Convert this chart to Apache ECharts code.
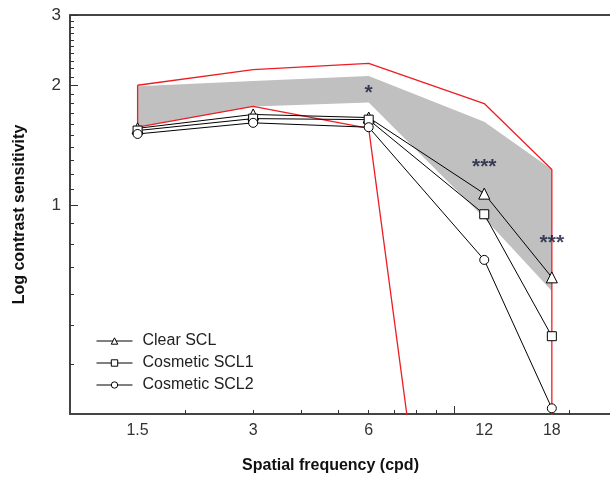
<!DOCTYPE html>
<html>
<head>
<meta charset="utf-8">
<script src="https://cdn.jsdelivr.net/npm/echarts@6/dist/echarts.min.js"></script>
<style>
html, body { margin: 0; padding: 0; background: #fff; overflow: hidden; }
#chart { width: 640px; height: 481px; }
</style>
</head>
<body>
<div id="chart"></div>
<script>
// spatial frequencies (cpd)
var freqs = [1.5, 3, 6, 12, 18];
// contrast sensitivity per lens
var clearScl = [1.56, 1.69, 1.66, 1.07, 0.66];
var cosmeticScl1 = [1.54, 1.65, 1.64, 0.95, 0.47];
var cosmeticScl2 = [1.51, 1.61, 1.57, 0.73, 0.31];
// grey normal band
var bandUpper = [1.99, 2.05, 2.11, 1.62, 1.23];
var bandLower = [1.57, 1.77, 1.81, 0.93, 0.61];
// red limits
var limitUpper = [2.0, 2.19, 2.27, 1.80, 1.23];
var limitLower = [1.57, 1.77, 1.56, 0.0105, 0.001];
// significance marks
var starFreqs = [6, 12, 18];
var starValues = [1.91, 1.245, 0.805];
var starText = ['*', '***', '***'];
// ticks
var xLabelValues = [1.5, 3, 6, 12, 18];
var xMinorTicks = [2, 3, 4, 5, 6, 7, 8, 9, 20];
var xMajorTicks = [10];
var yLabelValues = [1, 2, 3];
var yMinorTicks = [0.4, 0.5, 0.6, 0.7, 0.8, 0.9, 1.1, 1.2, 1.3, 1.4, 1.5, 1.6, 1.7, 1.8, 1.9,
	2.1, 2.2, 2.3, 2.4, 2.5, 2.6, 2.7, 2.8, 2.9];

var font = 'Liberation Sans, Arial, sans-serif';
var axisColor = '#444';

function pairs(xs, ys) {
	return xs.map(function(x, i) { return [x, ys[i]]; });
}

// red outline: upper line out, lower line back
var limitPath = pairs(freqs, limitUpper)
	.concat(pairs(freqs, limitLower).reverse())
	.concat([[freqs[0], limitUpper[0]]]);

function lensSeries(name, values, symbol, size) {
	return {
		name: name,
		type: 'line',
		data: pairs(freqs, values),
		symbol: symbol,
		symbolSize: size,
		showAllSymbol: true,
		z: 5,
		lineStyle: { color: '#000', width: 1 },
		itemStyle: { color: '#fff', borderColor: '#000', borderWidth: 1 }
	};
}

function bareLogX(extra) {
	return Object.assign({
		type: 'log', logBase: 10, min: 1, max: 30,
		axisLine: { show: false },
		axisTick: { show: false },
		axisLabel: { show: false },
		splitLine: { show: false }
	}, extra);
}

var chart = echarts.init(document.getElementById('chart'));

// the plot runs past the right edge of the window, as in the source figure
var option = {
	animation: false,
	grid: {
		left: 70, right: 3, top: 15, bottom: 67,
		outerBoundsMode: 'none'
	},
	legend: {
		orient: 'vertical',
		left: 91, top: 328,
		itemWidth: 36, itemHeight: 8, itemGap: 6,
		data: ['Clear SCL', 'Cosmetic SCL1', 'Cosmetic SCL2'],
		itemStyle: { color: '#fff', borderColor: '#000', borderWidth: 1 },
		lineStyle: { color: '#000', width: 1 },
		textStyle: { fontFamily: font, fontSize: 16, color: '#222', padding: [0, 0, 0, 5], lineHeight: 16 }
	},
	xAxis: [{
		type: 'log', logBase: 10, min: 1, max: 30,
		name: 'Spatial frequency (cpd)',
		nameLocation: 'middle', nameGap: 44,
		nameTextStyle: { fontFamily: font, fontSize: 16, fontWeight: 'bold', color: '#111', padding: [0, 46, 0, 0] },
		axisLine: { show: true, lineStyle: { color: axisColor, width: 2 } },
		axisTick: { inside: true, length: 4, customValues: xMinorTicks, lineStyle: { color: '#333' } },
		axisLabel: {
			customValues: xLabelValues, margin: 9,
			fontFamily: font, fontSize: 16, color: '#333',
			formatter: function(v) { return String(v); }
		},
		splitLine: { show: false }
	},
	bareLogX({
		position: 'bottom',
		axisTick: { show: true, inside: true, length: 8, customValues: xMajorTicks, lineStyle: { color: '#333' } }
	}),
	bareLogX({
		position: 'top',
		axisLine: { show: true, onZero: false, lineStyle: { color: axisColor, width: 2 } }
	})],
	yAxis: [{
		type: 'log', logBase: 10, min: 0.3, max: 3,
		name: 'Log contrast sensitivity',
		nameLocation: 'middle', nameGap: 42,
		nameTextStyle: { fontFamily: font, fontSize: 16, fontWeight: 'bold', color: '#111' },
		axisLine: { show: true, lineStyle: { color: axisColor, width: 2 } },
		axisTick: { inside: true, length: 8, customValues: yLabelValues, lineStyle: { color: '#333' } },
		axisLabel: {
			customValues: yLabelValues, margin: 9,
			fontFamily: font, fontSize: 17, color: '#333',
			formatter: function(v) { return String(v); }
		},
		splitLine: { show: false }
	}, {
		type: 'log', logBase: 10, min: 0.3, max: 3, position: 'left',
		axisLine: { show: false },
		axisTick: { inside: true, length: 4, customValues: yMinorTicks, lineStyle: { color: '#333' } },
		axisLabel: { show: false },
		splitLine: { show: false }
	}],
	series: [{
		type: 'custom',
		silent: true,
		z: 1,
		data: [[freqs[0], bandUpper[0]]],
		renderItem: function(params, api) {
			var pts = [];
			for (var i = 0; i < freqs.length; i++) pts.push(api.coord([freqs[i], bandUpper[i]]));
			for (var j = freqs.length - 1; j >= 0; j--) pts.push(api.coord([freqs[j], bandLower[j]]));
			return { type: 'polygon', shape: { points: pts }, style: { fill: '#c0c0c0' } };
		}
	}, {
		type: 'line',
		silent: true,
		z: 3,
		data: limitPath,
		symbol: 'none',
		lineStyle: { color: '#ee1d24', width: 1.3 }
	},
	lensSeries('Clear SCL', clearScl, 'triangle', 11),
	lensSeries('Cosmetic SCL1', cosmeticScl1, 'rect', 9),
	lensSeries('Cosmetic SCL2', cosmeticScl2, 'circle', 9),
	{
		type: 'scatter',
		silent: true,
		z: 6,
		data: pairs(starFreqs, starValues),
		symbolSize: 2,
		itemStyle: { color: 'rgba(0,0,0,0)' },
		label: {
			show: true, position: 'inside',
			fontFamily: font, fontSize: 21, fontWeight: 'bold', color: '#14183a',
			formatter: function(p) { return starText[p.dataIndex]; }
		}
	}]
};

chart.setOption(option);
</script>
</body>
</html>
